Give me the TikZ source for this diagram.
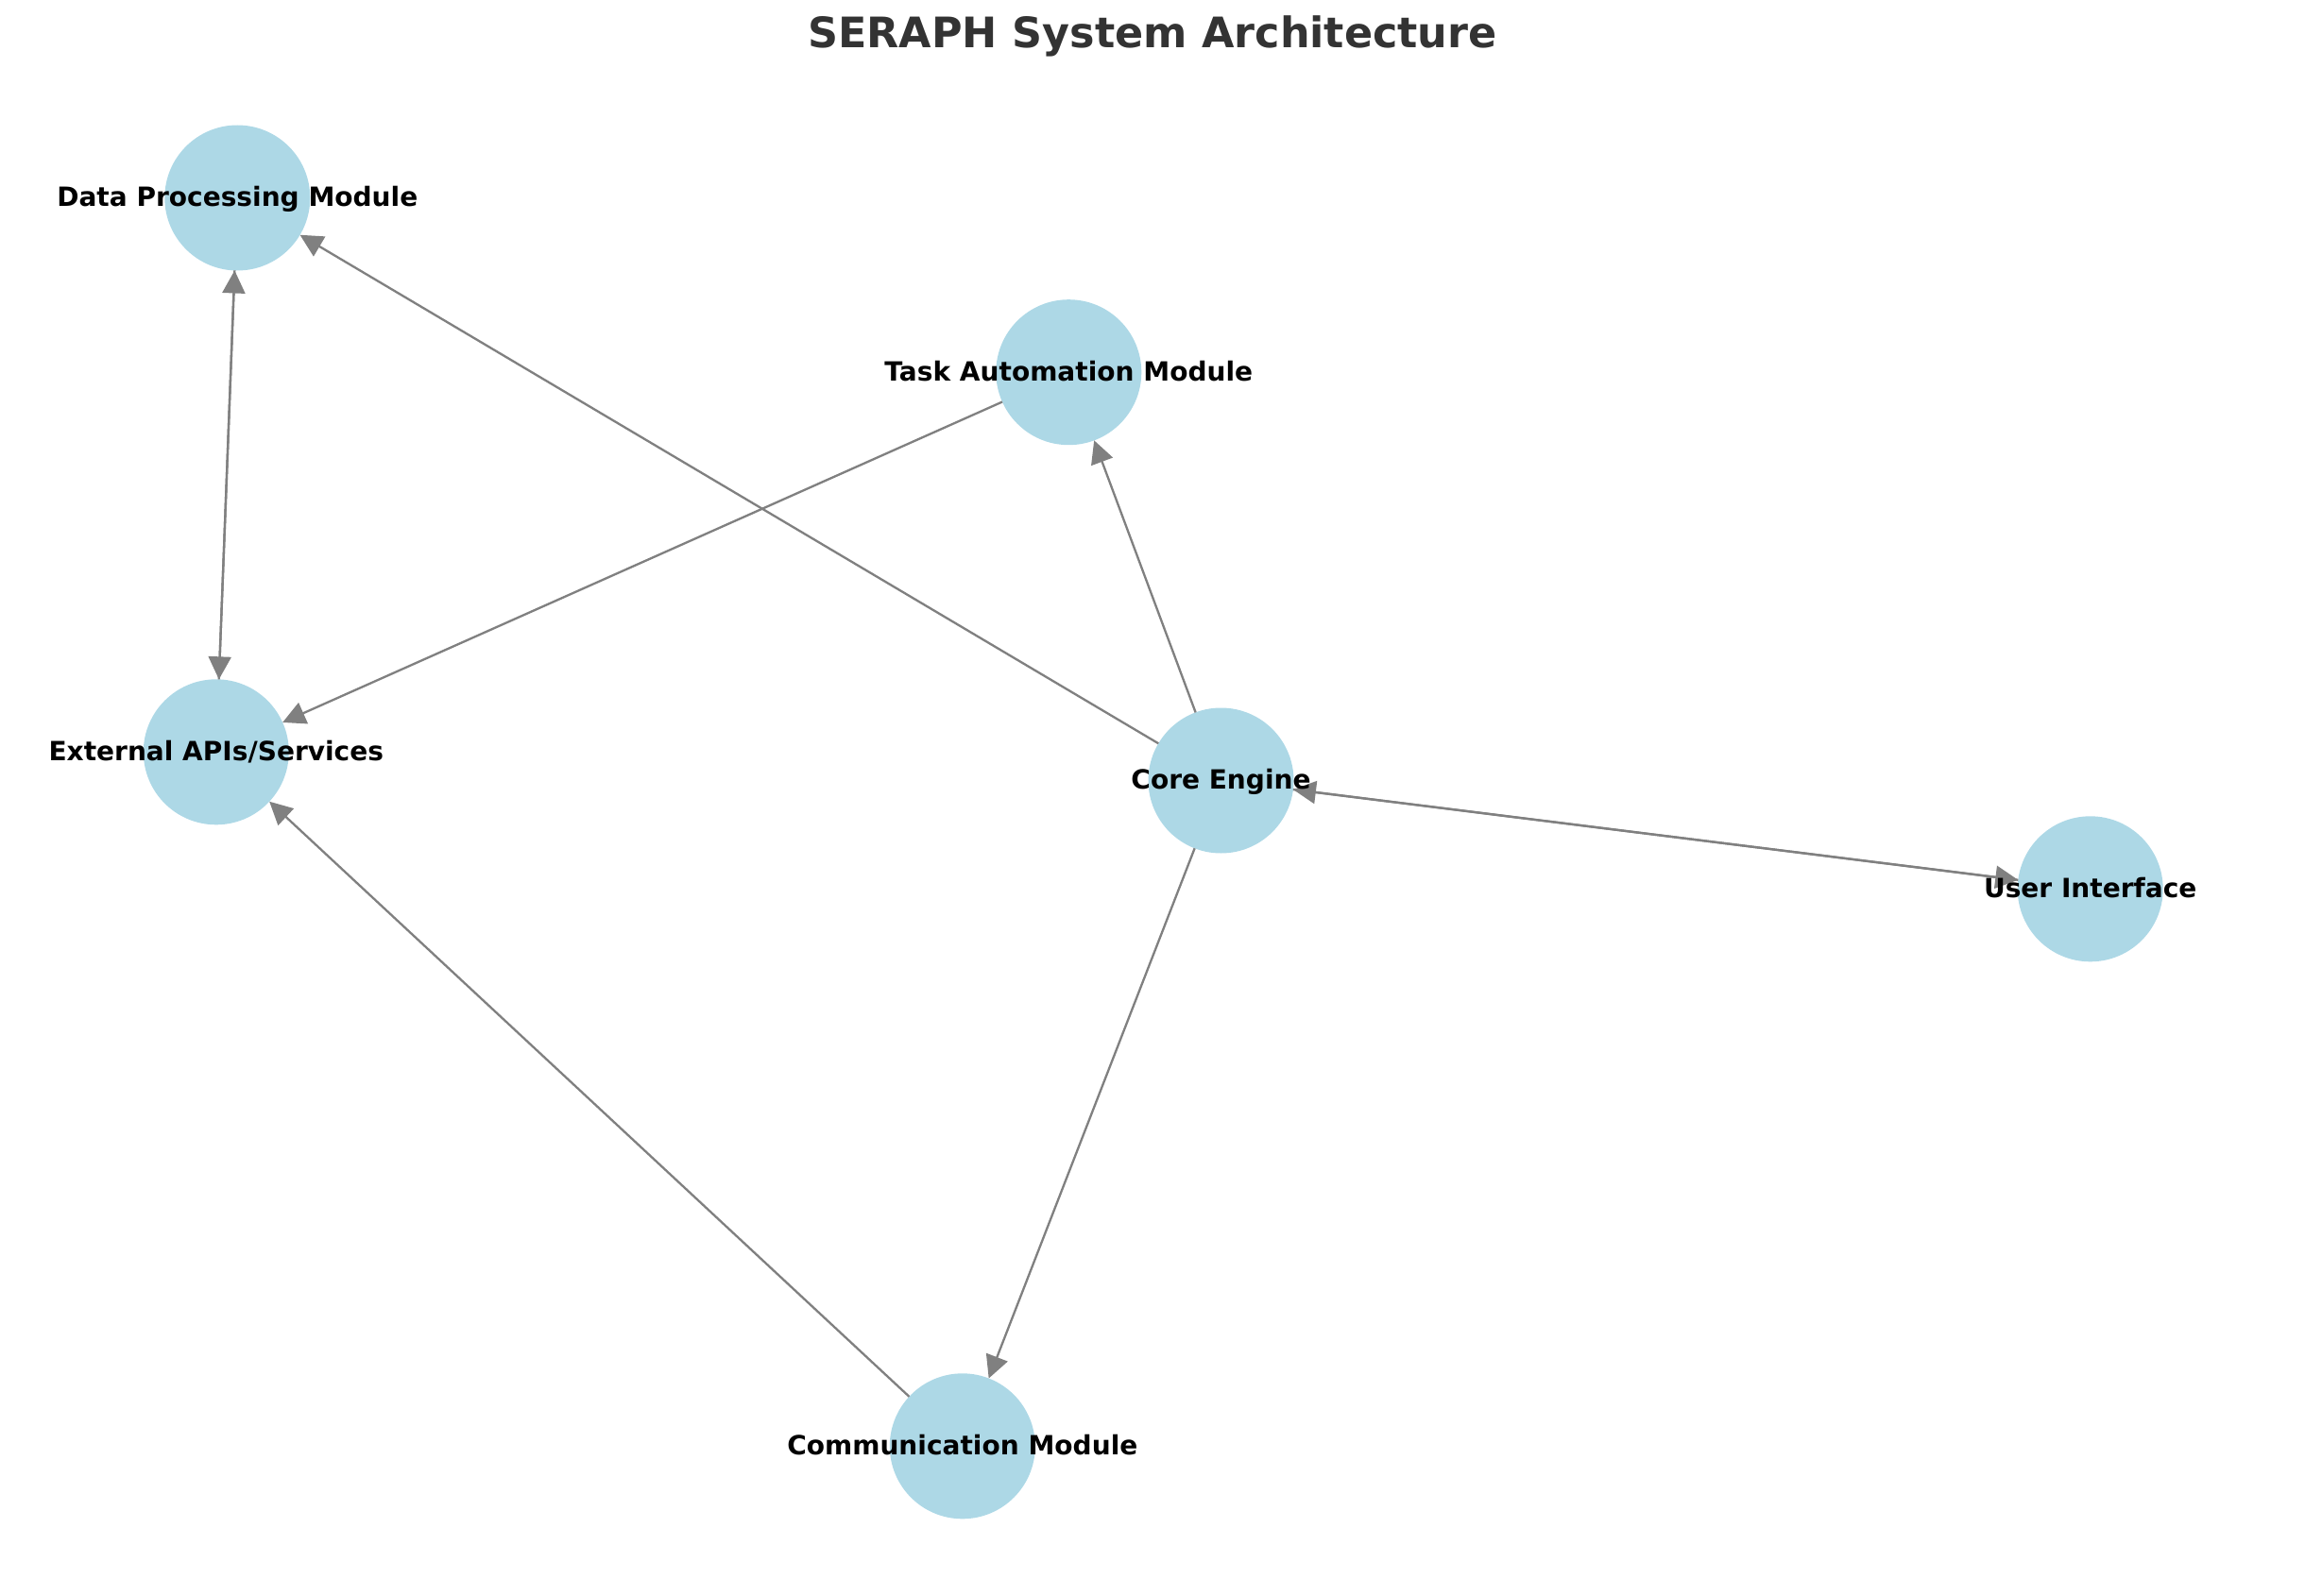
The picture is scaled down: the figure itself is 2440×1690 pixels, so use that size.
\documentclass[tikz,border=0pt]{standalone}
\usepackage{fontspec}
\setmainfont{DejaVu Sans}
\usetikzlibrary{arrows.meta}
\definecolor{nodeblue}{HTML}{ADD8E6}
\definecolor{edgegray}{HTML}{808080}
\definecolor{titlegray}{HTML}{333333}
\begin{document}
\begin{tikzpicture}[x=0.4745pt,y=-0.4745pt,
  vertex/.style={circle,fill=nodeblue,draw=none,minimum size=73.07pt,inner sep=0pt,outer sep=0pt},
  link/.style={draw=edgegray,line width=1.1pt,-{Triangle[length=11.4pt,width=11.4pt]}},
  lbl/.style={anchor=base,font=\fontsize{13.3}{15}\selectfont\bfseries,inner sep=0pt,yshift=-4.5pt},
  ttl/.style={anchor=base,font=\fontsize{21.1}{25}\selectfont\bfseries,text=titlegray,inner sep=0pt}]
\useasboundingbox (0,0) rectangle (2440,1690);
% nodes
\node[vertex] (DP) at (251.3,209.5) {};
\node[vertex] (TA) at (1131.3,394.2) {};
\node[vertex] (EX) at (228.8,796.3) {};
\node[vertex] (CE) at (1292.5,826.5) {};
\node[vertex] (UI) at (2212.7,941.3) {};
\node[vertex] (CM) at (1018.8,1531.3) {};
% edges
\draw[link] (CE) -- (DP);
\draw[link] (CE) -- (TA);
\draw[link] (CE) -- (CM);
\draw[link] (CE) -- (UI);
\draw[link] (UI) -- (CE);
\draw[link] (TA) -- (EX);
\draw[link] (DP) -- (EX);
\draw[link] (EX) -- (DP);
\draw[link] (CM) -- (EX);
% labels
\node[lbl] (lDP) at (DP.center) {Data Processing Module};
\node[lbl] (lTA) at (TA.center) {Task Automation Module};
\node[lbl] (lEX) at (EX.center) {External APIs/Services};
\node[lbl] (lCE) at (CE.center) {Core Engine};
\node[lbl] (lUI) at (UI.center) {User Interface};
\node[lbl] (lCM) at (CM.center) {Communication Module};
% title
\node[ttl] (title) at (1220,51) {SERAPH System Architecture};
\end{tikzpicture}
\end{document}
